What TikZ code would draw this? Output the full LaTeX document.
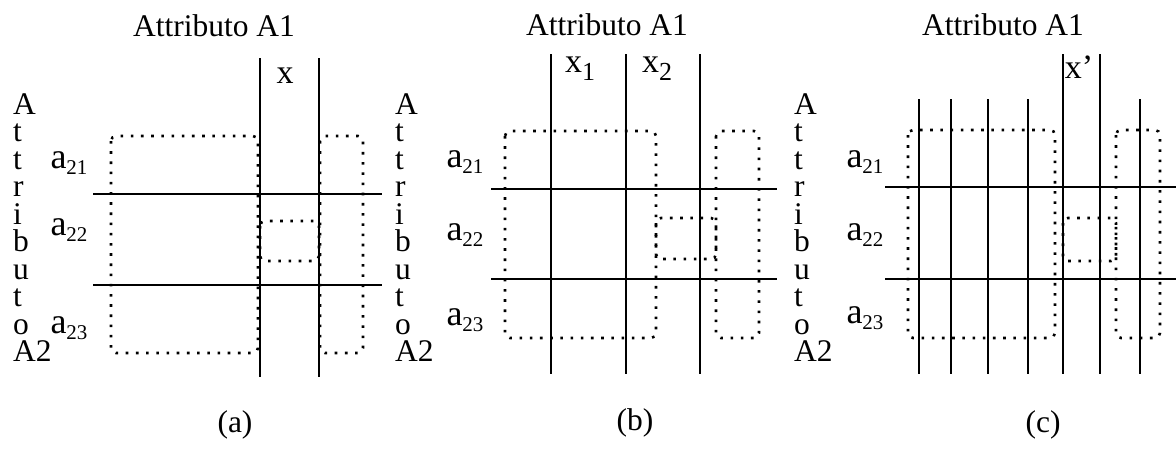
\documentclass[tikz,border=0pt]{standalone}
\usepackage{fontspec}
\setmainfont{Liberation Serif}
\usetikzlibrary{positioning}
\tikzset{font=\fontsize{31.5}{27.5}\selectfont}
\tikzset{grid line/.style={line width=2.4pt},
  cell box/.style={line width=2.6pt, dash pattern=on 2.6pt off 7.6pt, rounded corners=5pt},
  attr label/.style={align=left, inner sep=0pt, anchor=north west},
  row label/.style={anchor=base, font=\fontsize{36}{36}\selectfont},
  col label/.style={anchor=base, font=\fontsize{34}{34}\selectfont}}
% index set lower and smaller than the letter
\newcommand{\rowidx}[2]{#1\raisebox{-6.5pt}{\fontsize{21}{21}\selectfont #2}}
\newcommand{\colidx}[2]{#1\raisebox{-8pt}{\fontsize{26}{26}\selectfont #2}}

\begin{document}
\begin{tikzpicture}[x=1pt, y=-1pt]
  \useasboundingbox (0,0) rectangle (1176,448);
  % (a)
  \foreach \x in {260,319}
    \draw[grid line] (\x,58) -- (\x,377);
  \foreach \y in {194,285}
    \draw[grid line] (93,\y) -- (382,\y);
  \draw[cell box] (111,136) rectangle (258,353);
  \draw[cell box] (320,136) rectangle (363,353);
  \draw[cell box] (260,221) rectangle (319,261);
  \node[anchor=base] (titleA) at (214,36) {Attributo A1};
  \node[col label] (xA) at (285,83) {x};
  \node[row label] (aA1) at (69,168) {\rowidx{a}{21}};
  \node[row label] (aA2) at (69,235) {\rowidx{a}{22}};
  \node[row label] (aA3) at (69,333) {\rowidx{a}{23}};
  \node[attr label] (attrA) at (13,93) {A\\t\\t\\r\\i\\b\\u\\t\\o\\A2};
  \node (capA) at (235,425) {(a)};

  % (b)
  \foreach \x in {551,626,700}
    \draw[grid line] (\x,54) -- (\x,374);
  \foreach \y in {189,279}
    \draw[grid line] (491,\y) -- (777,\y);
  \draw[cell box] (505,131) rectangle (656,338);
  \draw[cell box] (716,131) rectangle (759,338);
  \draw[cell box] (656,218) rectangle (716,259);
  \node[anchor=base] (titleB) at (607,35) {Attributo A1};
  \node[col label] (xB1) at (580,72) {\colidx{x}{1}};
  \node[col label] (xB2) at (657,72) {\colidx{x}{2}};
  \node[row label] (aB1) at (465,167) {\rowidx{a}{21}};
  \node[row label] (aB2) at (465,240) {\rowidx{a}{22}};
  \node[row label] (aB3) at (465,325) {\rowidx{a}{23}};
  \node[attr label] (attrB) at (395,93) {A\\t\\t\\r\\i\\b\\u\\t\\o\\A2};
  \node (capB) at (635,423) {(b)};

  % (c)
  \foreach \x in {919,951,988,1028,1140}
    \draw[grid line] (\x,99) -- (\x,374);
  \foreach \x in {1063,1100}
    \draw[grid line] (\x,54) -- (\x,374);
  \foreach \y in {187,279}
    \draw[grid line] (885,\y) -- (1176,\y);
  \draw[cell box] (908,130) rectangle (1055,338);
  \draw[cell box] (1116,130) rectangle (1160,338);
  \draw[cell box] (1063,218) rectangle (1116,261);
  \node[anchor=base] (titleC) at (1003,35) {Attributo A1};
  \node[col label] (xC) at (1079,78) {x’};
  \node[row label] (aC1) at (865,167) {\rowidx{a}{21}};
  \node[row label] (aC2) at (865,240) {\rowidx{a}{22}};
  \node[row label] (aC3) at (865,323) {\rowidx{a}{23}};
  \node[attr label] (attrC) at (794,93) {A\\t\\t\\r\\i\\b\\u\\t\\o\\A2};
  \node (capC) at (1043,425) {(c)};
\end{tikzpicture}
\end{document}
